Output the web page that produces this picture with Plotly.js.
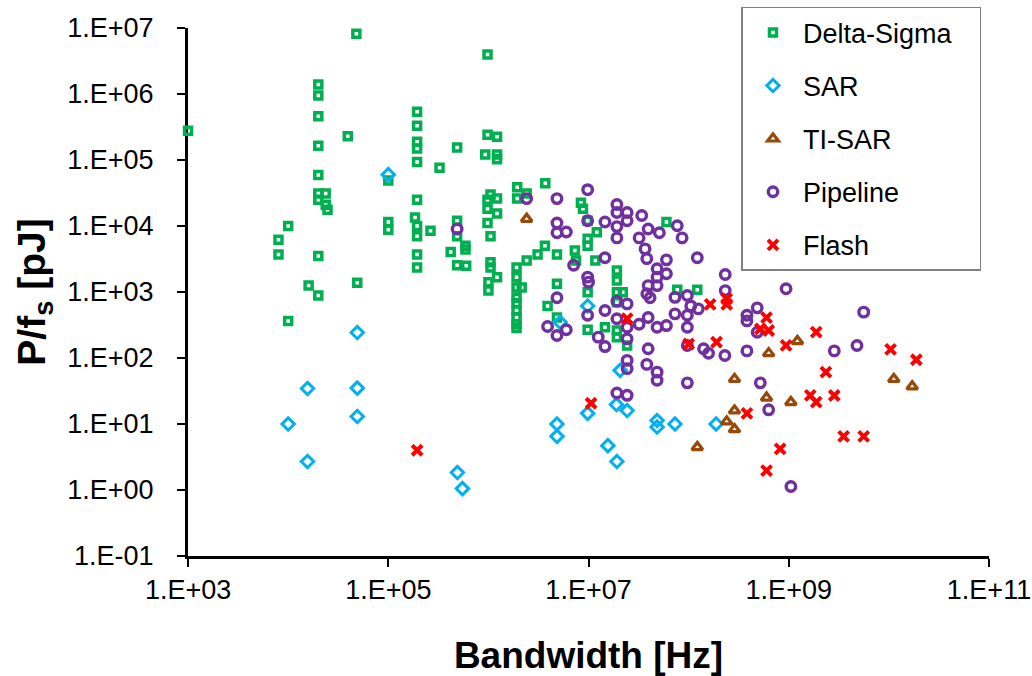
<!DOCTYPE html>
<html>
<head>
<meta charset="utf-8">
<script src="https://cdn.plot.ly/plotly-3.0.1.min.js"></script>
<style>
html,body{margin:0;padding:0;background:#fff;}
#chart{width:1032px;height:676px;}
</style>
</head>
<body>
<div id="chart"></div>
<script>
// ---- Data (bandwidth in Hz, P/fs in pJ) ----
const deltaSigmaBW = [1.0e3, 8.0e3, 8.0e3, 1.0e4, 1.0e4, 1.6e4, 2.0e4, 2.0e4, 2.0e4, 2.0e4, 2.0e4, 2.0e4, 2.0e4, 2.37e4, 2.37e4, 2.47e4, 2.0e4, 2.0e4, 3.94e4, 4.8e4, 4.9e4, 1.0e5, 1.0e5, 1.0e5, 1.94e5, 1.94e5, 1.94e5, 1.94e5, 1.94e5, 1.94e5, 1.85e5, 1.94e5, 1.94e5, 1.94e5, 1.94e5, 2.64e5, 3.25e5, 4.87e5, 4.87e5, 4.87e5, 5.9e5, 4.2e5, 5.9e5, 4.87e5, 6.0e5, 9.8e5, 9.8e5, 1.22e6, 9.3e5, 1.22e6, 1.22e6, 1.05e6, 9.8e5, 1.22e6, 9.8e5, 1.22e6, 9.8e5, 1.05e6, 1.05e6, 1.05e6, 1.22e6, 1.0e6, 1.0e6, 1.94e6, 1.94e6, 2.41e6, 3.7e6, 1.91e6, 1.91e6, 1.91e6, 2.15e6, 1.91e6, 1.91e6, 1.91e6, 1.91e6, 1.91e6, 1.91e6, 2.41e6, 3.1e6, 3.67e6, 4.84e6, 3.9e6, 4.84e6, 4.84e6, 7.3e6, 7.5e6, 1.17e7, 9.8e6, 9.8e6, 1.21e7, 8.4e6, 8.8e6, 9.8e6, 6.0e7, 9.8e6, 9.8e6, 1.46e7, 1.92e7, 1.92e7, 1.92e7, 1.92e7, 1.92e7, 1.92e7, 2.2e7, 2.43e7, 7.7e7, 1.22e8];
const deltaSigmaE = [2.77e5, 6.2e3, 3.7e3, 1.0e4, 365, 1.25e3, 1.39e6, 9.5e5, 4.6e5, 1.64e5, 5.9e4, 3.1e4, 2.5e4, 3.1e4, 2.1e4, 1.76e4, 3.5e3, 885, 2.3e5, 8.2e6, 1.38e3, 4.9e4, 1.15e4, 8.75e3, 5.4e5, 3.3e5, 1.89e5, 1.49e5, 9.3e4, 2.5e4, 1.35e4, 1.0e4, 7.0e3, 3.7e3, 2.36e3, 8.5e3, 7.6e4, 1.55e5, 1.2e4, 7.0e3, 5.0e3, 4.05e3, 4.4e3, 2.54e3, 2.5e3, 3.96e6, 2.41e5, 2.25e5, 1.21e5, 1.21e5, 1.03e5, 3.0e4, 2.5e4, 2.6e4, 1.82e4, 1.55e4, 1.11e4, 7.0e3, 2.83e3, 2.36e3, 1.68e3, 1.41e3, 1.05e3, 3.87e4, 2.6e4, 3.1e4, 4.45e4, 2.36e3, 1.68e3, 1.17e3, 1.17e3, 820, 680, 525, 415, 325, 285, 3.0e3, 3.7e3, 5.0e3, 3.7e3, 615, 1.33e3, 410, 4.26e3, 3.0e3, 3.0e3, 6.4e3, 5.0e3, 8.05e3, 2.25e4, 1.82e4, 1.2e4, 1.15e4, 990, 268, 292, 2.12e3, 1.49e3, 990, 700, 261, 207, 990, 155, 1.08e3, 1.08e3];

const sarBW = [1.0e4, 1.56e4, 1.56e4, 4.9e4, 4.9e4, 4.9e4, 1.0e5, 4.9e5, 5.5e5, 4.84e6, 4.84e6, 5.2e6, 9.8e6, 9.8e6, 1.56e7, 1.92e7, 1.9e7, 2.43e7, 2.07e7, 4.84e7, 4.84e7, 7.3e7, 1.88e8];
const sarE = [10, 34.5, 2.7, 243, 35, 13, 6.0e4, 1.84, 1.05, 10, 6.5, 348, 615, 14.5, 4.7, 2.7, 19.7, 16, 65, 11.3, 9.0, 10, 10];

const tiSarBW = [2.41e6, 1.22e8, 2.4e8, 2.87e8, 2.87e8, 2.87e8, 6.0e8, 6.3e8, 1.05e9, 1.22e9, 1.12e10, 1.71e10];
const tiSarE = [1.28e4, 4.45, 10.9, 16, 8.3, 48, 25, 118, 21.4, 180, 48, 37];

const pipelineBW = [4.87e5, 2.41e6, 4.84e6, 9.8e6, 4.84e6, 4.84e6, 6.0e6, 9.8e6, 1.46e7, 1.92e7, 1.92e7, 2.43e7, 2.43e7, 3.4e7, 1.92e7, 1.92e7, 3.2e7, 3.94e7, 5.1e7, 7.7e7, 8.6e7, 3.67e7, 3.82e7, 6.0e7, 1.46e7, 1.22e8, 4.84e7, 6.0e7, 4.84e7, 3.94e7, 4.84e7, 3.82e7, 2.32e8, 2.32e8, 7.1e6, 9.8e6, 1.0e7, 4.84e6, 1.46e7, 9.8e6, 1.92e7, 2.43e7, 1.92e7, 2.43e7, 2.43e7, 3.2e7, 3.94e7, 4.84e7, 6.0e7, 7.3e7, 7.3e7, 9.7e7, 1.05e8, 1.25e8, 9.7e7, 9.7e7, 3.9e6, 4.84e6, 6.0e6, 1.25e7, 1.46e7, 3.94e7, 3.82e7, 4.84e7, 4.84e7, 9.7e7, 2.43e7, 2.43e7, 1.92e7, 2.43e7, 4.12e7, 1.41e8, 1.58e8, 2.3e8, 3.82e8, 9.4e8, 4.84e8, 3.82e8, 3.82e8, 4.84e8, 5.6e9, 2.85e9, 4.8e9, 5.2e8, 6.3e8, 1.05e9, 9.7e7];
const pipelineE = [9.0e3, 2.6e4, 2.6e4, 3.55e4, 1.11e4, 7.9e3, 8.1e3, 1.2e4, 1.15e4, 2.12e4, 1.6e4, 1.6e4, 1.2e4, 1.44e4, 9.8e3, 6.6e3, 6.6e3, 9.0e3, 7.9e3, 1.01e4, 6.6e3, 4.5e3, 3.2e3, 3.07e3, 3.3e3, 3.3e3, 2.25e3, 1.89e3, 1.68e3, 1.25e3, 1.25e3, 940, 1.84e3, 1.05e3, 2.54e3, 1.68e3, 1.41e3, 820, 525, 445, 725, 660, 393, 292, 195, 325, 410, 292, 310, 467, 830, 885, 615, 555, 445, 292, 300, 219, 268, 207, 149, 138, 80, 61, 46, 42, 92, 69, 29.5, 27.2, 820, 138, 118, 109, 128, 1.12e3, 575, 445, 365, 246, 495, 128, 155, 42, 16.4, 1.13, 155];

const flashBW = [1.94e5, 1.06e7, 2.43e7, 1.0e8, 1.64e8, 2.4e8, 2.4e8, 1.9e8, 6.0e8, 5.2e8, 6.3e8, 9.4e8, 1.88e9, 2.35e9, 1.04e10, 1.88e10, 1.64e9, 1.88e9, 2.85e9, 3.82e8, 3.53e9, 5.6e9, 8.2e8, 6.0e8];
const flashE = [4.0, 20.6, 393, 163, 650, 790, 650, 174, 410, 277, 261, 155, 246, 61, 135, 94, 27.2, 21.4, 27, 14.5, 6.5, 6.5, 4.2, 1.97];

const xTickVals = [1e3, 1e5, 1e7, 1e9, 1e11];
const xTickText = ['1.E+03', '1.E+05', '1.E+07', '1.E+09', '1.E+11'];
const yTickVals = [1e-1, 1e0, 1e1, 1e2, 1e3, 1e4, 1e5, 1e6, 1e7];
const yTickText = ['1.E-01', '1.E+00', '1.E+01', '1.E+02', '1.E+03', '1.E+04', '1.E+05', '1.E+06', '1.E+07'];

function mk(name, x, y, symbol, color, size, lw, group) {
  return {
    type: 'scatter', mode: 'markers', name: name, x: x, y: y,
    legendgroup: group, cliponaxis: false,
    marker: {symbol: symbol, size: size, color: color, line: {color: color, width: lw}}
  };
}

const traces = [
  mk('Delta-Sigma\u00a0\u00a0\u00a0', deltaSigmaBW, deltaSigmaE, 'square-open', '#00B050', 7, 3.5, 'a'),
  mk('SAR', sarBW, sarE, 'diamond-open', '#00B0F0', 9.5, 3, 'b'),
  mk('TI-SAR', tiSarBW, tiSarE, 'triangle-up-open', '#984807', 9.5, 3.2, 'c'),
  mk('Pipeline', pipelineBW, pipelineE, 'circle-open', '#7030A0', 9.5, 3.4, 'd'),
  mk('Flash', flashBW, flashE, 'x-thin-open', '#FF0000', 10, 4, 'e')
];

const font = 'Arial, "Liberation Sans", sans-serif';
const layout = {
  width: 1032, height: 676,
  paper_bgcolor: '#ffffff', plot_bgcolor: '#ffffff',
  margin: {l: 188, r: 43, t: 28, b: 120, autoexpand: false},
  font: {family: font, color: '#000'},
  showlegend: true,
  legend: {
    x: 0.691, y: 1.040, xanchor: 'left', yanchor: 'top',
    bordercolor: '#808080', borderwidth: 1.5, bgcolor: '#ffffff',
    font: {family: font, size: 27, color: '#000'},
    traceorder: 'grouped', tracegroupgap: 15, itemwidth: 50
  },
  xaxis: {
    type: 'log', range: [2.9995, 11], tickvals: xTickVals, ticktext: xTickText,
    showgrid: false, zeroline: false, layer: 'below traces',
    showline: true, linecolor: '#000', linewidth: 3,
    ticks: 'outside', ticklen: 8, tickwidth: 2, tickcolor: '#000',
    tickfont: {family: font, size: 27, color: '#000'},
    title: {text: '<b>Bandwidth [Hz]</b>', font: {family: font, size: 37, color: '#000'}, standoff: 38}
  },
  yaxis: {
    type: 'log', range: [-1, 7], tickvals: yTickVals, ticktext: yTickText,
    showgrid: false, zeroline: false, layer: 'below traces',
    showline: true, linecolor: '#000', linewidth: 3,
    ticks: 'outside', ticklen: 8, tickwidth: 2, tickcolor: '#000',
    ticklabelstandoff: 18,
    tickfont: {family: font, size: 27, color: '#000'},
    title: {text: '<b>P/f<sub>s</sub> [pJ]</b>', font: {family: font, size: 39, color: '#000'}, standoff: 10}
  }
};

Plotly.newPlot('chart', traces, layout, {displayModeBar: false, staticPlot: true});
</script>
</body>
</html>
